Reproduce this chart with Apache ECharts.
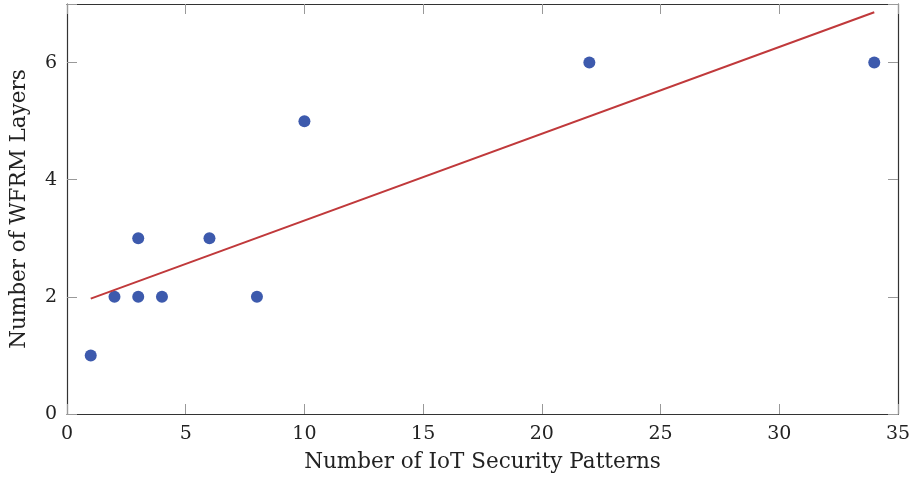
<!DOCTYPE html>
<html>
<head>
<meta charset="utf-8">
<script src="https://cdn.jsdelivr.net/npm/echarts@6/dist/echarts.min.js"></script>
<style>html,body{margin:0;padding:0;background:#fff}#c{width:917px;height:479px}</style>
</head>
<body>
<div id="c"></div>
<script>
const patternCounts = [1, 2, 3, 3, 4, 6, 8, 10, 22, 34];
const layerCounts   = [1, 2, 3, 2, 2, 3, 2, 5, 6, 6];
const fitX = [1, 34];
const fitY = [1.97, 6.86];
const xTitle = 'Number of IoT Security Patterns';
const yTitle = 'Number of WFRM Layers';

const font = 'DejaVu Serif';
const points = patternCounts.map((x, i) => [x, layerCounts[i]]);
const fit = fitX.map((x, i) => [x, fitY[i]]);
const axisLine = {show: true, onZero: false, lineStyle: {color: '#333', width: 1.2}};
const tick = {show: true, inside: true, length: 10, lineStyle: {color: '#999', width: 1}};
const chart = echarts.init(document.getElementById('c'));
chart.setOption({
  animation: false,
  grid: {left: 66, right: 19, top: 4, bottom: 65},
  xAxis: [{
    type: 'value', min: 0, max: 35, interval: 5, position: 'bottom',
    axisLine, axisTick: tick, splitLine: {show: false},
    axisLabel: {color: '#222', fontFamily: font, fontSize: 19, margin: 11},
    name: xTitle, nameLocation: 'middle', nameGap: 37,
    nameTextStyle: {color: '#222', fontFamily: font, fontSize: 21.5}
  }, {
    type: 'value', min: 0, max: 35, interval: 5, position: 'top',
    axisLine, axisTick: tick, splitLine: {show: false}, axisLabel: {show: false}
  }],
  yAxis: [{
    type: 'value', min: 0, max: 7, interval: 2, position: 'left',
    axisLine, axisTick: tick, splitLine: {show: false},
    axisLabel: {color: '#222', fontFamily: font, fontSize: 19, margin: 10,
      formatter: v => (v % 2 === 0 ? String(v) : '')},
    name: yTitle, nameLocation: 'middle', nameGap: 37, nameRotate: 90,
    nameTextStyle: {color: '#222', fontFamily: font, fontSize: 21.5}
  }, {
    type: 'value', min: 0, max: 7, interval: 2, position: 'right',
    axisLine, axisTick: tick, splitLine: {show: false}, axisLabel: {show: false}
  }],
  series: [{
    type: 'scatter', data: points, symbolSize: 12,
    itemStyle: {color: '#3d5aad', opacity: 1}, z: 3
  }, {
    type: 'line', data: fit, showSymbol: false, symbol: 'none',
    lineStyle: {color: '#c0393b', width: 2}, z: 4
  }]
});
</script>
</body>
</html>
